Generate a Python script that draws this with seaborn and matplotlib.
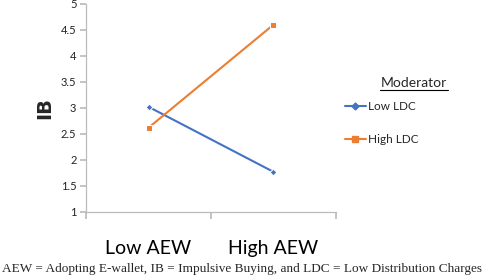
import matplotlib
matplotlib.use("Agg")
import matplotlib.pyplot as plt
import seaborn as sns
import pandas as pd

categories = ["Low AEW", "High AEW"]
low_ldc = [3.02, 1.77]
high_ldc = [2.62, 4.60]
series_names = ["Low LDC", "High LDC"]
yticks = [1, 1.5, 2, 2.5, 3, 3.5, 4, 4.5, 5]
caption = "AEW = Adopting E-wallet, IB = Impulsive Buying, and LDC = Low Distribution Charges"

df = pd.DataFrame({
    "x": list(range(len(categories))) * 2,
    "IB": low_ldc + high_ldc,
    "Moderator": [series_names[0]] * len(categories) + [series_names[1]] * len(categories),
})

sns.set_theme(style="white")
plt.rcParams["font.family"] = ["Lato", "DejaVu Sans"]

fig = plt.figure(figsize=(4.84, 2.77), dpi=100)
ax = fig.add_axes([0.178, 0.235, 0.516, 0.751])

palette = {"Low LDC": "#4472C4", "High LDC": "#ED7D31"}
sns.lineplot(data=df, x="x", y="IB", hue="Moderator", style="Moderator",
             markers={"Low LDC": "D", "High LDC": "s"}, dashes=False,
             palette=palette, linewidth=1.5, ax=ax, legend=False)
for line, ms in zip(ax.lines, [3.5, 5]):
    line.set_markersize(ms)

ax.set_xlim(-0.5, 1.5)
ax.set_ylim(1, 5)
ax.set_yticks(yticks)
ax.set_yticklabels([f"{v:g}" for v in yticks], fontsize=8, color="#222222")
ax.set_xticks([-0.5, 0.5, 1.5])
ax.set_xticklabels([])
ax.set_xticks(range(len(categories)), minor=True)
ax.set_xticklabels(categories, minor=True, fontsize=14, color="black")
ax.tick_params(axis="x", which="major", direction="out", length=5, color="#BBBBBB", bottom=True)
ax.tick_params(axis="x", which="minor", length=0, pad=20)
ax.tick_params(axis="y", direction="out", length=4, color="#BBBBBB", left=True, pad=3)
for s in ["top", "right"]:
    ax.spines[s].set_visible(False)
for s in ["left", "bottom"]:
    ax.spines[s].set_color("#BBBBBB")
    ax.spines[s].set_linewidth(0.9)
ax.set_xlabel("")
ax.set_ylabel("IB", fontsize=14, fontweight="bold", labelpad=5, family=["DejaVu Sans"])

# legend
from matplotlib.lines import Line2D
handles = [Line2D([], [], color=palette["Low LDC"], marker="D", markersize=3.5, lw=1.5),
           Line2D([], [], color=palette["High LDC"], marker="s", markersize=5, lw=1.5)]
fig.text(0.855, 0.70, "Moderator", fontsize=10, ha="center", va="center")
fig.add_artist(Line2D([0.785, 0.925], [0.675, 0.675], color="black", lw=0.8, transform=fig.transFigure))
leg = fig.legend(handles, series_names, loc="upper left", bbox_to_anchor=(0.69, 0.675),
                 frameon=False, fontsize=8.5, handlelength=1.8, handletextpad=0.2,
                 labelspacing=1.9)

fig.text(0.5, 0.03, caption, fontsize=9.5, ha="center", va="center",
         family=["Liberation Serif", "DejaVu Serif"])

fig.savefig("out.png", dpi=100)
